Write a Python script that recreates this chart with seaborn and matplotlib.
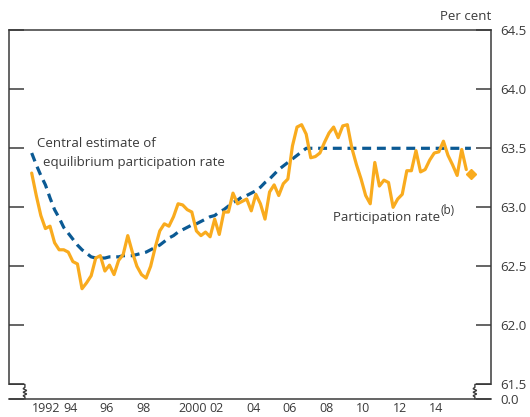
import numpy as np
import pandas as pd
import seaborn as sns
import matplotlib.pyplot as plt
from matplotlib.transforms import ScaledTranslation

# quarterly data, 1992 Q1 onwards (per cent)
participation = [
    63.29, 63.10, 62.93, 62.82, 62.84, 62.70, 62.64, 62.64, 62.62, 62.54,
    62.52, 62.31, 62.36, 62.42, 62.57, 62.59, 62.46, 62.51, 62.43, 62.55,
    62.60, 62.76, 62.62, 62.50, 62.43, 62.40, 62.50, 62.66, 62.80, 62.86,
    62.84, 62.92, 63.03, 63.02, 62.98, 62.96, 62.80, 62.76, 62.79, 62.75,
    62.90, 62.77, 62.96, 62.96, 63.12, 63.03, 63.05, 63.07, 62.97, 63.11,
    63.03, 62.90, 63.13, 63.19, 63.10, 63.20, 63.24, 63.52, 63.68, 63.70,
    63.62, 63.42, 63.43, 63.46, 63.55, 63.63, 63.68, 63.59, 63.69, 63.70,
    63.50, 63.36, 63.24, 63.10, 63.03, 63.38, 63.18, 63.23, 63.21, 63.00,
    63.07, 63.11, 63.31, 63.31, 63.48, 63.30, 63.32, 63.40, 63.46, 63.47,
    63.56, 63.44, 63.36, 63.27, 63.49, 63.32,
]
equilibrium = [
    63.46, 63.36, 63.27, 63.19, 63.08, 62.98, 62.91, 62.83, 62.78, 62.73,
    62.68, 62.64, 62.61, 62.58, 62.57, 62.57, 62.57, 62.58, 62.58, 62.58,
    62.59, 62.59, 62.59, 62.60, 62.61, 62.62, 62.64, 62.66, 62.68, 62.71,
    62.74, 62.76, 62.79, 62.81, 62.83, 62.85, 62.86, 62.88, 62.90, 62.92,
    62.93, 62.96, 62.98, 63.01, 63.04, 63.06, 63.09, 63.10, 63.12, 63.14,
    63.17, 63.21, 63.24, 63.28, 63.32, 63.35, 63.38, 63.41, 63.44, 63.47,
    63.50, 63.50, 63.50, 63.50, 63.50, 63.50, 63.50, 63.50, 63.50, 63.50,
    63.50, 63.50, 63.50, 63.50, 63.50, 63.50, 63.50, 63.50, 63.50, 63.50,
    63.50, 63.50, 63.50, 63.50, 63.50, 63.50, 63.50, 63.50, 63.50, 63.50,
    63.50, 63.50, 63.50, 63.50, 63.50, 63.50, 63.50,
]
latest_value = 63.28   # diamond, 2016 Q1

y_ticks = [61.5, 62.0, 62.5, 63.0, 63.5, 64.0, 64.5]
x_ticks = list(range(1992, 2015, 2))
x_labels = ['1992', '94', '96', '98', '2000', '02', '04', '06', '08', '10', '12', '14']

yellow = '#f9ab1e'
blue = '#0b5a94'
ink = '#3a3a3a'


def to_year(periods):
    return np.array([p.year + (p.quarter - 1) / 4 for p in periods])


q_part = pd.period_range('1992Q1', periods=len(participation), freq='Q')
q_eq = pd.period_range('1992Q1', periods=len(equilibrium), freq='Q')
df_part = pd.DataFrame({'year': to_year(q_part), 'rate': participation})
df_eq = pd.DataFrame({'year': to_year(q_eq), 'rate': equilibrium})
latest_year = to_year([q_part[-1] + 1])[0]

sns.set_style('white')
plt.rcParams['font.family'] = ['Open Sans', 'DejaVu Sans']

fig = plt.figure(figsize=(5.3, 4.17), dpi=100)
W, H = 530, 417
ax = fig.add_axes([9 / W, (H - 399) / H, (491 - 9) / W, (399 - 30.3) / H])

x_lo, x_hi = 1990.76, 2017.10
y_floor = 61.5 - 14.7 / 118
ax.set_xlim(x_lo, x_hi)
ax.set_ylim(y_floor, 64.5)

sns.lineplot(data=df_eq, x='year', y='rate', ax=ax, color=blue, lw=2.3,
             linestyle=(0, (2.8, 1.8)))
sns.lineplot(data=df_part, x='year', y='rate', ax=ax, color=yellow, lw=2.3)
ax.plot([latest_year], [latest_value], marker='D', ms=5.5, color=yellow, lw=0)

# spines with broken axis
for s in ['top', 'bottom', 'left', 'right']:
    ax.spines[s].set_color(ink)
    ax.spines[s].set_linewidth(1.1)
ax.spines['left'].set_bounds(61.5, 64.5)
ax.spines['right'].set_bounds(61.5, 64.5)

def break_mark(x_edge, x_break):
    dx = 0.1
    h = 61.5 - y_floor
    xs = [x_edge, x_break, x_break, x_break - dx, x_break + dx, x_break - dx,
          x_break + dx, x_break - dx, x_break, x_break]
    ys = [61.5, 61.5, 61.5 - 0.2 * h, 61.5 - 0.3 * h, 61.5 - 0.42 * h,
          61.5 - 0.54 * h, 61.5 - 0.66 * h, 61.5 - 0.78 * h, 61.5 - 0.86 * h, y_floor]
    ax.plot(xs, ys, color=ink, lw=1.0, clip_on=False, solid_joinstyle='miter')

break_mark(x_lo, 1991.63)
break_mark(x_hi, 2016.22)

ax.yaxis.tick_right()
ax.set_yticks([y_floor] + y_ticks)
ax.set_yticklabels(['0.0'] + ['%.1f' % v for v in y_ticks])
ax.tick_params(axis='y', left=True, right=True, labelleft=False, labelright=True,
               direction='in', length=10.8, width=1.1, color=ink, pad=6.5,
               labelsize=9.5, labelcolor=ink)
ax.set_xticks(x_ticks)
ax.set_xticklabels(x_labels)
ax.tick_params(axis='x', direction='in', length=9.4, width=1.1, color=ink,
               pad=2.5, labelsize=9, labelcolor=ink)
nudge = ScaledTranslation(2 / 100, 0, fig.dpi_scale_trans)
for lab in ax.get_xticklabels():
    if len(lab.get_text()) == 4:
        lab.set_horizontalalignment('left')
    else:
        lab.set_transform(lab.get_transform() + nudge)
ax.set_xlabel('')
ax.set_ylabel('')

ax.text(1992.29, 63.54, 'Central estimate of', fontsize=9.5, color=ink, va='center')
ax.text(1992.62, 63.38, 'equilibrium participation rate', fontsize=9.5, color=ink,
        va='center')
t = ax.text(2008.48, 62.915, 'Participation rate', fontsize=9.5, color=ink,
            va='center')
ax.annotate('(b)', xy=(1.0, 0.5), xycoords=t, fontsize=8.5, color=ink,
            ha='left', va='bottom')
fig.text(491 / W, 1 - 17 / H, 'Per cent', fontsize=9.5, color=ink, ha='right',
         va='center')

fig.savefig('out.png', dpi=100)
